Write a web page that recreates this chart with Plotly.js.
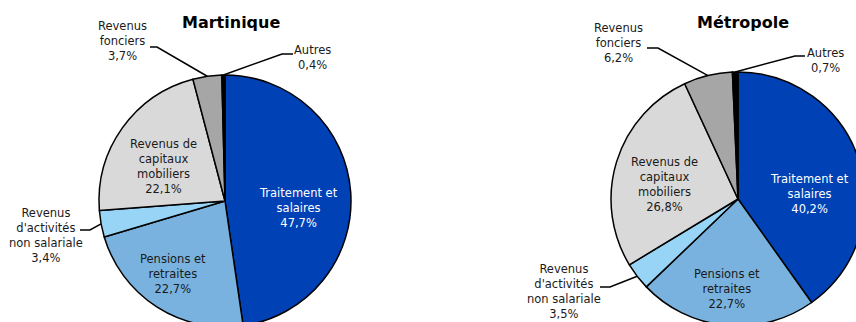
<!DOCTYPE html>
<html><head><meta charset="utf-8">
<script src="https://cdn.plot.ly/plotly-3.0.1.min.js"></script>
<style>html,body{margin:0;padding:0;overflow:hidden;background:#fff}#c{width:900px;height:340px}</style>
</head><body><div id="c"></div>
<script>
const categories = ["Traitement et<br>salaires", "Pensions et<br>retraites", "Revenus<br>d'activités<br>non salariale", "Revenus de<br>capitaux<br>mobiliers", "Revenus<br>fonciers", "Autres"];
const martinique = [47.7, 22.7, 3.4, 22.1, 3.7, 0.4];
const metropole = [40.2, 22.7, 3.5, 26.8, 6.2, 0.7];
const titles = ["Martinique", "Métropole"];
const colors = ["#0041B6", "#79B2DF", "#97D4F6", "#D9D9D9", "#A6A6A6", "#000000"];

const W = 900, H = 340;
const FONT = "DejaVu Sans";
// layout of each pie (pixels): center, radius, title position, label positions, leader elbows
const pies = [
  {cx: 225, cy: 201, r: 126, title: [231, 23],
   labels: [[298, 207.5], [173, 273.5], [46, 235], [163, 166], [122, 40.5], [312, 57.5]],
   leaders: {2: [[80, 230], [90, 230]], 4: [[150, 47], [157, 47]], 5: [[293, 54], [282, 54]]}},
  {cx: 738, cy: 199, r: 127, title: [743, 23],
   labels: [[809, 194], [727, 288.5], [564, 291], [664, 184], [618, 43], [825, 60.5]],
   leaders: {2: [[600, 287], [610, 287]], 4: [[647, 48], [658, 48]], 5: [[805, 56], [795, 56]]}}
];
const series = [martinique, metropole];
const px = x => x / W, py = y => 1 - y / H;
const fmt = v => v.toFixed(1).replace('.', ',') + '%';

const data = [], annotations = [], shapes = [];
series.forEach((vals, k) => {
  const p = pies[k];
  data.push({
    type: 'pie', values: vals, labels: categories, sort: false, direction: 'clockwise', rotation: 0,
    marker: {colors: colors, line: {color: '#000', width: 1.5}},
    textinfo: 'none', hoverinfo: 'none', showlegend: false,
    domain: {x: [px(p.cx - p.r), px(p.cx + p.r)], y: [py(p.cy + p.r), py(p.cy - p.r)]}
  });
  annotations.push({xref: 'paper', yref: 'paper', x: px(p.title[0]), y: py(p.title[1]), xanchor: 'center', yanchor: 'middle',
    text: '<b>' + titles[k] + '</b>', showarrow: false, font: {family: FONT, size: 16, color: '#000'}});
  const total = vals.reduce((a, b) => a + b, 0);
  let cum = 0;
  vals.forEach((v, i) => {
    const mid = (cum + v / 2) / total * 2 * Math.PI;
    cum += v;
    annotations.push({xref: 'paper', yref: 'paper', x: px(p.labels[i][0]), y: py(p.labels[i][1]),
      xanchor: 'center', yanchor: 'middle', align: 'center', showarrow: false,
      text: categories[i] + '<br>' + fmt(v),
      font: {family: FONT, size: 11.5, color: i === 0 ? '#fff' : '#1a1a1a'}});
    if (p.leaders[i]) {
      const ex = p.cx + p.r * Math.sin(mid), ey = p.cy - p.r * Math.cos(mid);
      const [a, b] = p.leaders[i];
      shapes.push({type: 'path', xref: 'paper', yref: 'paper',
        path: `M ${px(a[0])},${py(a[1])} L ${px(b[0])},${py(b[1])} L ${px(ex)},${py(ey)}`,
        line: {color: '#000', width: 1.5}});
    }
  });
});

Plotly.newPlot('c', data, {
  width: W, height: H, margin: {l: 0, r: 0, t: 0, b: 0},
  paper_bgcolor: '#fff', plot_bgcolor: '#fff',
  annotations: annotations, shapes: shapes
}, {staticPlot: true, displayModeBar: false});
</script></body></html>
